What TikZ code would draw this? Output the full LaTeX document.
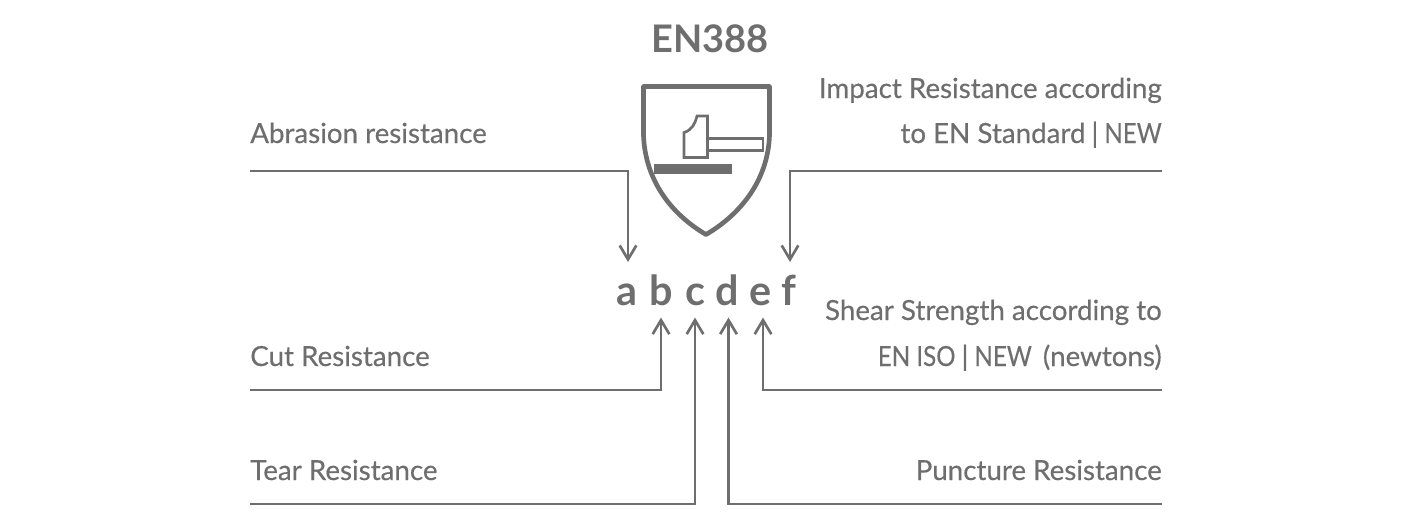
\documentclass[tikz,border=0pt]{standalone}
\usepackage{fontspec}
\setmainfont{Lato}
\newfontfamily\labfont[FakeBold=0.35]{Lato}
\usetikzlibrary{arrows.meta}
\definecolor{ink}{HTML}{6E6E6E}
\newcommand{\barsep}{\kern4.5pt|\kern4.5pt}
\newcommand{\nar}[1]{\scalebox{0.87}[1]{#1}}
\tikzset{
  x=0.75pt,y=-0.75pt,
  conn/.style={draw=ink,line width=2.2pt,-{Straight Barb[length=10.5pt,width=12.5pt,line width=2pt]}},
  lab/.style={inner sep=0pt,text=ink,font=\fontsize{20.8}{24}\selectfont\labfont},
  labl/.style={lab,anchor=base west},
  labr/.style={lab,anchor=base east},
  letter/.style={inner sep=0pt,text=ink,font=\fontsize{31}{32}\selectfont\bfseries,text height=32.25pt,text depth=9pt,anchor=north},
  frame/.style={draw=ink,line width=3.5pt,line join=round},
  thin/.style={draw=ink,line width=2pt,line join=miter}
}
\begin{document}
\begin{tikzpicture}
\useasboundingbox (0,0) rectangle (1420,529);
\node[inner sep=0pt,text=ink,font=\fontsize{28.5}{32}\selectfont\bfseries,anchor=base] (title) at (710,52) {EN388};
% shield
\path[frame] (643.5,86.5) -- (769.5,86.5) -- (769.5,135)
  .. controls (768,180) and (741,214) .. (706,234.5)
  .. controls (671,214) and (645,180) .. (643.5,135) -- cycle;
\path[thin] (684,157.5) -- (684,132.5) .. controls (692,130) and (695,124) .. (697,116) -- (707.5,116) -- (707.5,157.5) -- cycle;
\path[thin] (707.5,138.5) -- (763,138.5) -- (763,150.5) -- (707.5,150.5);
\fill[ink] (654,164) rectangle (732,173.5);
% letters
\node[letter] (a) at (628,262) {a\kern1.5pt};
\node[letter] (b) at (661,262) {b};
\node[letter] (c) at (695,262) {c};
\node[letter] (d) at (728.5,262) {d\kern2.2pt};
\node[letter] (e) at (763,262) {e\kern3pt};
\node[letter] (f) at (790,262) {f\kern1.5pt};
% labels
\node[labl] (la) at (250,143) {Abrasion resistance};
\node[labl] (lb) at (250,366) {Cut Resistance};
\node[labl] (lc) at (250,480) {Tear Resistance};
\node[labr] (lf1) at (1162,98) {Impact Resistance according};
\node[labr] (lf2) at (1162,143) {to EN Standard\barsep\nar{NEW}};
\node[labr] (le1) at (1162,320) {Shear Strength according to};
\node[labr] (le2) at (1162,366) {\nar{EN ISO}\barsep\nar{NEW}\kern3pt\ (newtons)};
\node[labr] (ld) at (1162,480) {Puncture Resistance};
% connector start points
\coordinate (sa) at (250,171);
\coordinate (sb) at (250,390);
\coordinate (sc) at (250,504);
\coordinate (sd) at (1162,504);
\coordinate (se) at (1162,390);
\coordinate (sf) at (1162,171);
\draw[conn] (sa) -| (a.north);
\draw[conn] (sf) -| (f.north);
\draw[conn] (sb) -| (b.south);
\draw[conn] (sc) -| (c.south);
\draw[conn] (sd) -| (d.south);
\draw[conn] (se) -| (e.south);
\end{tikzpicture}
\end{document}
